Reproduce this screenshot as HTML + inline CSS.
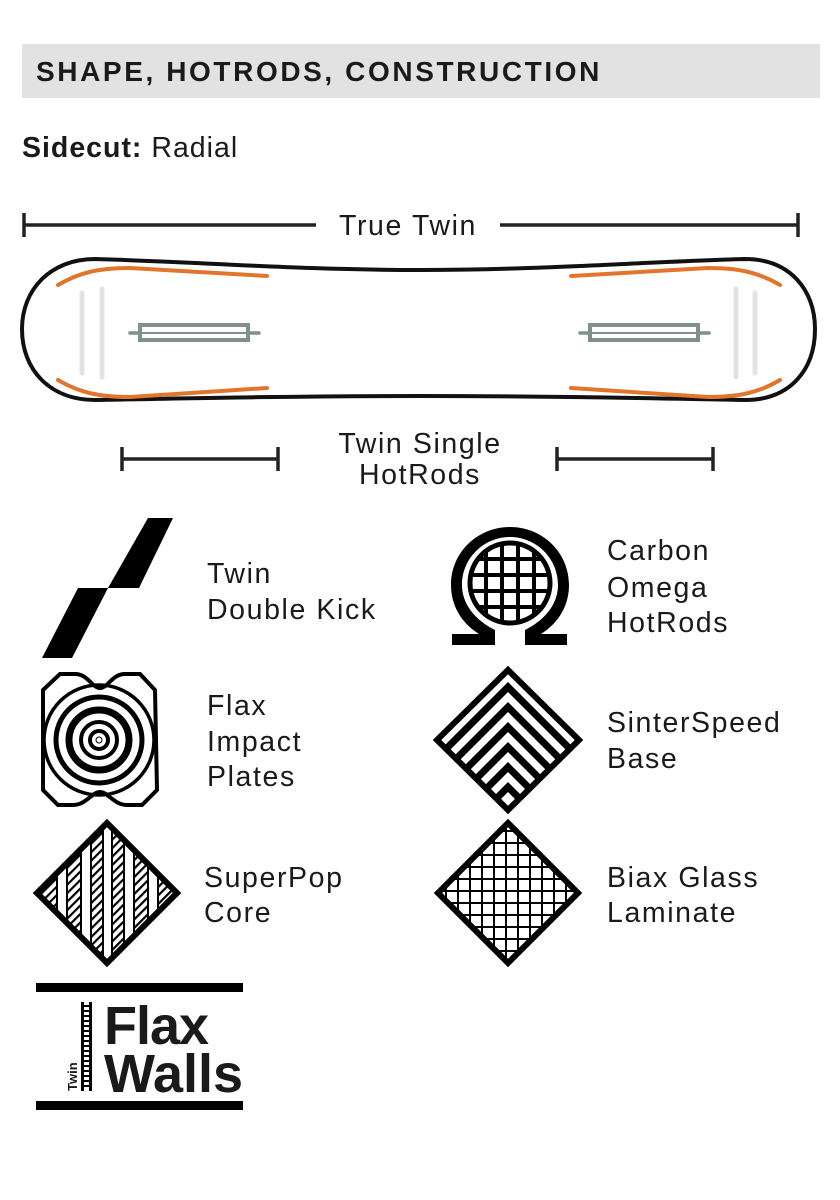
<!DOCTYPE html>
<html><head><meta charset="utf-8"><style>
html,body{margin:0;padding:0;background:#fff;}
svg{display:block}
text{font-family:"Liberation Sans",sans-serif;fill:#1a1a1a}
.t{font-size:28.5px;letter-spacing:1.6px}
</style></head><body>
<svg width="840" height="1200" viewBox="0 0 840 1200" xmlns="http://www.w3.org/2000/svg">
<defs>
<clipPath id="d1"><polygon points="107,823 177,893 107,963 37,893"/></clipPath>
<clipPath id="d2"><polygon points="508,823 578,893 508,963 438,893"/></clipPath>
<clipPath id="d3"><polygon points="508,670 579,740 508,810 437,740"/></clipPath>
<clipPath id="c1"><circle cx="510" cy="583" r="40"/></clipPath>
<pattern id="hatch" width="6" height="6" patternUnits="userSpaceOnUse" patternTransform="rotate(45)"><rect width="2.2" height="6" fill="#000"/></pattern>
</defs>
<rect x="22" y="44" width="798" height="54" fill="#e1e2e1"/>
<text x="36" y="81" font-size="28" font-weight="bold" fill="#111" letter-spacing="2.6">SHAPE, HOTRODS, CONSTRUCTION</text>
<text x="22" y="157" font-size="28.5" letter-spacing="1"><tspan font-weight="bold">Sidecut:</tspan> Radial</text>

<g stroke="#222" stroke-width="3.5">
<line x1="24" y1="225" x2="316" y2="225"/><line x1="500" y1="225" x2="798" y2="225"/>
<line x1="24" y1="213" x2="24" y2="237"/><line x1="798" y1="213" x2="798" y2="237"/>
</g>
<text x="408" y="235" class="t" text-anchor="middle">True Twin</text>

<path d="M95,259 C200,262 300,270 420,270 C540,270 640,262 745,259 C790,259 815,290 815,329 C815,370 790,400 745,400 C640,398 540,396 420,396 C300,396 200,398 95,400 C50,400 22,370 22,329 C22,290 50,259 95,259 Z" fill="#fff" stroke="#111" stroke-width="4"/>
<g fill="none" stroke="#e2752c" stroke-width="4" stroke-linecap="round">
<path d="M58,285 C80,272 100,268 130,268 L267,276"/>
<path d="M58,380 C80,393 100,397 130,397 L267,388"/>
<path d="M780,285 C758,272 738,268 708,268 L571,276"/>
<path d="M780,380 C758,393 738,397 708,397 L571,388"/>
</g>
<g stroke="#e3e3e3" stroke-width="5" stroke-linecap="round">
<line x1="82" y1="293" x2="82" y2="373"/><line x1="102" y1="289" x2="102" y2="377"/>
<line x1="736" y1="289" x2="736" y2="377"/><line x1="755" y1="293" x2="755" y2="373"/>
</g>
<g stroke="#7f918b" fill="none">
<line x1="130" y1="333" x2="259" y2="333" stroke-width="3.5" stroke-linecap="round"/>
<rect x="140" y="325" width="108" height="15" stroke-width="4" fill="#fff"/>
<line x1="142" y1="333" x2="246" y2="333" stroke-width="2"/>
<line x1="580" y1="333" x2="709" y2="333" stroke-width="3.5" stroke-linecap="round"/>
<rect x="590" y="325" width="108" height="15" stroke-width="4" fill="#fff"/>
<line x1="592" y1="333" x2="696" y2="333" stroke-width="2"/>
</g>

<g stroke="#222" stroke-width="3.5">
<line x1="122" y1="459" x2="278" y2="459"/><line x1="122" y1="447" x2="122" y2="471"/><line x1="278" y1="447" x2="278" y2="471"/>
<line x1="557" y1="459" x2="713" y2="459"/><line x1="557" y1="447" x2="557" y2="471"/><line x1="713" y1="447" x2="713" y2="471"/>
</g>
<text x="420" y="453" class="t" text-anchor="middle">Twin Single</text>
<text x="420" y="484" class="t" text-anchor="middle">HotRods</text>

<polygon points="148,518 173,518 139,588 108,588" fill="#000"/>
<polygon points="78,588 108,588 72,658 42,658" fill="#000"/>
<text x="207" y="583" class="t">Twin</text>
<text x="207" y="619" class="t">Double Kick</text>

<path d="M495,645 L452,645 L452,634 L479,634 C460,622 451,604 451,585 C451,552 478,527 510,527 C542,527 569,552 569,585 C569,604 560,622 541,634 L567,634 L567,645 L525,645 L525,630 C545,620 558,604 558,585 C558,558 536,537 510,537 C484,537 462,558 462,585 C462,604 475,620 495,630 Z" fill="#000"/>
<circle cx="510" cy="583" r="40" fill="none" stroke="#000" stroke-width="5"/>
<g clip-path="url(#c1)" stroke="#000" stroke-width="4">
<line x1="486" y1="540" x2="486" y2="630"/><line x1="502" y1="540" x2="502" y2="630"/><line x1="518" y1="540" x2="518" y2="630"/><line x1="534" y1="540" x2="534" y2="630"/>
<line x1="465" y1="559" x2="555" y2="559"/><line x1="465" y1="575" x2="555" y2="575"/><line x1="465" y1="591" x2="555" y2="591"/><line x1="465" y1="607" x2="555" y2="607"/>
</g>
<text x="607" y="560" class="t">Carbon</text>
<text x="607" y="597" class="t">Omega</text>
<text x="607" y="632" class="t">HotRods</text>

<path d="M60,674 L75,674 C88,674 92,688 100,688 C108,688 112,674 125,674 L140,674 L155,690 L157,790 L142,805 L127,805 C114,805 108,792 100,792 C92,792 86,805 73,805 L58,805 L43,790 L43,690 Z" fill="#fff" stroke="#000" stroke-width="4"/>
<g fill="none" stroke="#000">
<circle cx="99" cy="740" r="55" stroke-width="3.5"/>
<circle cx="99" cy="740" r="43" stroke-width="5"/>
<circle cx="99" cy="740" r="30" stroke-width="7"/>
<circle cx="99" cy="740" r="18" stroke-width="4"/>
<circle cx="99" cy="740" r="9" stroke-width="4"/>
<circle cx="99" cy="740" r="3" stroke-width="1"/>
</g>
<text x="207" y="715" class="t">Flax</text>
<text x="207" y="751" class="t">Impact</text>
<text x="207" y="786" class="t">Plates</text>

<g clip-path="url(#d3)" fill="none" stroke="#000" stroke-width="7">
<polyline points="420,755 508,667 596,755"/>
<polyline points="420,775 508,687 596,775"/>
<polyline points="420,795 508,707 596,795"/>
<polyline points="420,815 508,727 596,815"/>
<polyline points="420,835 508,747 596,835"/>
<polyline points="420,855 508,767 596,855"/>
<polyline points="440,855 508,787 576,855"/>
</g>
<polygon points="508,670 579,740 508,810 437,740" fill="none" stroke="#000" stroke-width="6"/>
<text x="607" y="732" class="t">SinterSpeed</text>
<text x="607" y="768" class="t">Base</text>

<g clip-path="url(#d1)">
<rect x="37" y="823" width="140" height="140" fill="url(#hatch)"/>
<g fill="#fff"><rect x="58" y="823" width="8" height="140"/><rect x="82" y="823" width="8" height="140"/><rect x="104" y="823" width="7" height="140"/><rect x="125" y="823" width="8" height="140"/><rect x="149" y="823" width="8" height="140"/></g>
<g fill="#000"><rect x="56" y="823" width="2" height="140"/><rect x="66" y="823" width="2" height="140"/><rect x="80" y="823" width="2" height="140"/><rect x="90" y="823" width="2" height="140"/><rect x="102" y="823" width="2" height="140"/><rect x="111" y="823" width="2" height="140"/><rect x="123" y="823" width="2" height="140"/><rect x="133" y="823" width="2" height="140"/><rect x="147" y="823" width="2" height="140"/><rect x="157" y="823" width="2" height="140"/></g>
</g>
<polygon points="107,823 177,893 107,963 37,893" fill="none" stroke="#000" stroke-width="6"/>
<text x="204" y="887" class="t">SuperPop</text>
<text x="204" y="922" class="t">Core</text>

<g clip-path="url(#d2)" stroke="#000" stroke-width="2">
<path d="M446,823V963M458,823V963M470,823V963M482,823V963M494,823V963M506,823V963M518,823V963M530,823V963M542,823V963M554,823V963M566,823V963M438,831H578M438,843H578M438,855H578M438,867H578M438,879H578M438,891H578M438,903H578M438,915H578M438,927H578M438,939H578M438,951H578"/>
</g>
<polygon points="508,823 578,893 508,963 438,893" fill="none" stroke="#000" stroke-width="6"/>
<text x="607" y="887" class="t">Biax Glass</text>
<text x="607" y="922" class="t">Laminate</text>

<rect x="36" y="983" width="207" height="9" fill="#000"/>
<rect x="36" y="1101" width="207" height="9" fill="#000"/>
<rect x="81" y="1002" width="3" height="89" fill="#000"/>
<rect x="89" y="1002" width="3" height="89" fill="#000"/>
<g stroke="#000" stroke-width="2"><path d="M84,1006H89M84,1011H89M84,1016H89M84,1021H89M84,1026H89M84,1031H89M84,1036H89M84,1041H89M84,1046H89M84,1051H89M84,1056H89M84,1061H89M84,1066H89M84,1071H89M84,1076H89M84,1081H89M84,1086H89"/></g>
<text transform="translate(77,1091) rotate(-90)" font-size="13" font-weight="bold" fill="#000">Twin</text>
<text x="104" y="1044" font-size="54" font-weight="bold" fill="#000" letter-spacing="-1">Flax</text>
<text x="104" y="1092" font-size="54" font-weight="bold" fill="#000" letter-spacing="0">Walls</text>
</svg>
</body></html>
